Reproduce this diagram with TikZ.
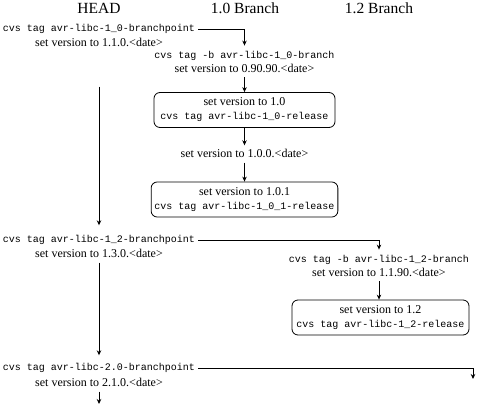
\documentclass[tikz,border=0pt]{standalone}
\usepackage{fontspec}
\setmainfont{Liberation Serif}
\setmonofont{Liberation Mono}
\usetikzlibrary{arrows.meta, positioning}

\newcommand{\cmdfont}{\fontsize{10}{14}\selectfont\ttfamily}

\begin{document}
\begin{tikzpicture}[
    x=1pt, y=-1pt,
    title/.style={font=\fontsize{15.5}{18}\selectfont},
    cmd/.style={font=\cmdfont, inner sep=3pt, text height=7pt, text depth=2pt},
    note/.style={font=\fontsize{12}{14}\selectfont, inner sep=3pt, text height=8.5pt, text depth=2.5pt},
    branch/.style={font=\fontsize{12}{14}\selectfont, align=center, inner xsep=3pt, inner ysep=5pt},
    relbox/.style={draw, rounded corners=6pt, font=\fontsize{12}{14}\selectfont, align=center, minimum width=181pt, minimum height=35pt, line width=0.8pt},
    arrow/.style={-{Stealth[length=5pt, width=4.5pt]}, line width=0.8pt}
]
    \useasboundingbox (0,0) rectangle (477,413);

    % column titles
    \node[title] (head) at (99,8) {HEAD};
    \node[title] (b10) at (245,8) {1.0 Branch};
    \node[title] (b12) at (379,8) {1.2 Branch};

    % HEAD
    \node[cmd] (bp10) at (99,29) {cvs tag avr-libc-1\_0-branchpoint};
    \node[note] (bp10v) at (99,43) {set version to 1.1.0.<date>};
    \node[cmd] (bp12) at (99,240) {cvs tag avr-libc-1\_2-branchpoint};
    \node[note] (bp12v) at (99,254) {set version to 1.3.0.<date>};
    \node[cmd] (bp20) at (99,368) {cvs tag avr-libc-2.0-branchpoint};
    \node[note] (bp20v) at (99,383) {set version to 2.1.0.<date>};
    \coordinate (headend) at (99,404);
    \coordinate (b20end) at (473,379);

    % 1.0 branch
    \node[branch] (br10) at (244.5,61.5) {{\cmdfont cvs tag -b avr-libc-1\_0-branch}\\set version to 0.90.90.<date>};
    \node[relbox] (rel10) at (244.5,110) {set version to 1.0\\{\cmdfont cvs tag avr-libc-1\_0-release}};
    \node[note] (v100) at (244.5,154) {set version to 1.0.0.<date>};
    \node[relbox] (rel101) at (244.5,199.5) {set version to 1.0.1\\{\cmdfont cvs tag avr-libc-1\_0\_1-release}};

    % 1.2 branch
    \node[branch] (br12) at (379,265.5) {{\cmdfont cvs tag -b avr-libc-1\_2-branch}\\set version to 1.1.90.<date>};
    \node[relbox, minimum width=177pt] (rel12) at (380.5,317.5) {set version to 1.2\\{\cmdfont cvs tag avr-libc-1\_2-release}};

    \draw[arrow, shorten <=35pt, shorten >=7pt] (bp10v) -- (bp12);
    \draw[arrow, shorten >=5pt] (bp12v) -- (bp20);
    \draw[arrow] (bp20v) -- (headend);

    \draw[arrow] (bp10.east) -| (br10.north);
    \draw[arrow] (br10) -- (rel10);
    \draw[arrow] (rel10) -- (v100);
    \draw[arrow] (v100) -- (rel101);

    \draw[arrow] (bp12.east) -| (br12.north);
    \draw[arrow] (br12.south) -- (br12.south |- rel12.north);

    \draw[arrow] (bp20.east) -| (b20end);
\end{tikzpicture}
\end{document}
